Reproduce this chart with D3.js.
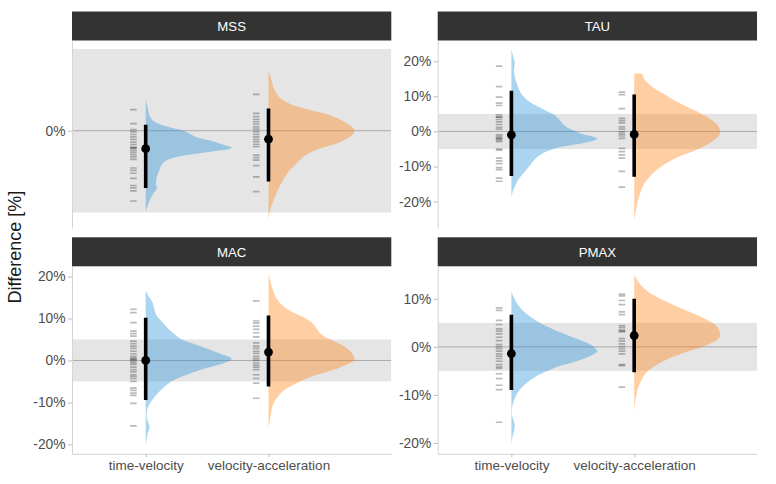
<!DOCTYPE html>
<html><head><meta charset="utf-8">
<script src="https://cdn.jsdelivr.net/npm/d3@7"></script>
<style>body{margin:0;background:#fff}svg{display:block;font-family:"Liberation Sans",Arial,Helvetica,sans-serif}</style>
</head><body><svg id="c" width="776" height="484"></svg>
<script>
// ---------- data ----------
const facets = ["MSS", "TAU", "MAC", "PMAX"];
const groups = ["time-velocity", "velocity-acceleration"];
const yTicks = [-20, -10, 0, 10, 20];
const sesoi = [-5, 5];

// individual differences (rug)
const rugMSS_tv = [1.29, 0.44, 0.07, -0.07, -0.23, -0.38, -0.53, -0.7, -0.85, -1.02, -1.04, -1.08, -1.2, -1.33, -1.46, -1.6, -1.75, -2.28, -2.42, -2.6, -2.92, -3.35, -3.5, -3.68, -4.3];
const rugMSS_va = [2.22, 1.06, 0.86, 0.69, 0.55, 0.41, 0.24, 0.1, -0.06, -0.22, -0.37, -0.53, -0.67, -0.84, -0.98, -1.49, -1.65, -1.8, -2.14, -2.82, -3.73];
const rugTAU_tv = [18.6, 12.8, 9.8, 8.1, 7.4, 4.7, 4.1, 4.1, 3.4, 2.7, 1.98, 1.2, 0.66, -1.0, -1.5, -2.0, -2.0, -2.5, -2.9, -5.0, -5.3, -7.6, -8.4, -9.2, -10.3, -10.9, -13.3, -14.2];
const rugTAU_va = [11.2, 10.5, 6.5, 3.7, 3.1, 2.45, 1.3, 0.66, -0.1, -0.75, -1.3, -2.0, -4.8, -5.75, -6.7, -7.6, -11.4, -15.9];
const rugMAC_tv = [12.2, 11.4, 9.0, 7.0, 6.4, 5.8, 4.6, 4.0, 3.4, 2.9, 2.2, 1.6, 1.0, 0.64, 0.24, 0.24, -0.16, -0.56, -0.96, -1.6, -2.2, -2.7, -3.4, -3.8, -4.3, -5.0, -6.6, -7.1, -7.8, -8.3, -10.2, -15.6];
const rugMAC_va = [14.2, 9.4, 8.9, 8.2, 7.4, 6.6, 5.6, 4.2, 3.4, 2.9, 2.2, 1.7, 1.0, 0.5, 0, -0.6, -1.1, -1.6, -2.2, -3.4, -4.3, -5.4, -9.0];
const rugPMAX_tv = [8.1, 7.6, 5.5, 4.65, 3.75, 3.26, 2.7, 2.0, 1.3, 0.49, 0.07, -0.35, -0.9, -1.46, -1.94, -2.43, -3.0, -3.7, -4.2, -4.5, -5.6, -6.6, -8.0, -8.9, -15.7];
const rugPMAX_va = [11.0, 10.6, 9.65, 8.8, 7.3, 6.7, 4.4, 4.0, 3.5, 3.3, 3.1, 1.7, 1.2, 0.6, 0.07, -0.4, -0.9, -1.46, -3.7, -3.9, -8.4];

// point estimate and interval [time-velocity, velocity-acceleration]
const estMSS = [-1.1, -0.52],  loMSS = [-3.5, -3.1],   hiMSS = [0.37, 1.36];
const estTAU = [-0.95, -0.86], loTAU = [-12.7, -12.9], hiTAU = [11.6, 10.5];
const estMAC = [0.0, 2.0],     loMAC = [-9.4, -6.2],   hiMAC = [10.2, 10.7];
const estPMAX = [-1.39, 2.36], loPMAX = [-9.0, -5.3],  hiPMAX = [6.7, 10.0];

// density profiles [value %, relative density]
const densMSS_tv = [[1.93,0],[1.48,0.02],[0.87,0.05],[0.46,0.13],[0.2,0.29],[0.02,0.43],[-0.2,0.52],[-0.42,0.6],[-0.62,0.76],[-0.82,0.89],[-1.05,1.0],[-1.28,0.75],[-1.48,0.48],[-1.68,0.3],[-1.99,0.2],[-2.4,0.16],[-2.81,0.13],[-3.21,0.12],[-3.52,0.13],[-3.83,0.09],[-4.23,0.05],[-4.64,0.02],[-4.95,0]];
const densMSS_va = [[3.72,0],[3.11,0.035],[2.5,0.07],[1.88,0.17],[1.48,0.33],[1.27,0.48],[1.07,0.64],[0.76,0.8],[0.46,0.91],[0.0,1.0],[-0.36,0.95],[-0.77,0.8],[-1.17,0.56],[-1.58,0.41],[-1.99,0.33],[-2.4,0.25],[-3.01,0.17],[-3.62,0.11],[-4.23,0.06],[-4.85,0.02],[-5.43,0]];
const densTAU_tv = [[23.5,0],[21.4,0.02],[19.5,0.04],[17.6,0.03],[15.7,0.04],[13.8,0.06],[11.9,0.09],[10.0,0.14],[8.6,0.2],[7.1,0.31],[5.7,0.42],[4.8,0.49],[3.3,0.56],[1.9,0.61],[0.95,0.66],[-0.48,0.8],[-2.1,1.0],[-3.3,0.84],[-4.3,0.6],[-5.7,0.41],[-7.1,0.31],[-8.6,0.25],[-10.5,0.19],[-11.9,0.14],[-13.8,0.08],[-15.7,0.04],[-17.6,0.01],[-18.6,0]];
const densTAU_va = [[16.5,0],[16.45,0.09],[14.8,0.12],[12.9,0.2],[11.0,0.32],[9.0,0.46],[7.1,0.61],[5.2,0.77],[3.3,0.9],[1.4,0.98],[0,1.0],[-1.4,0.98],[-3.3,0.88],[-5.2,0.73],[-7.1,0.53],[-9.0,0.38],[-11.0,0.26],[-12.9,0.18],[-14.8,0.12],[-17.6,0.07],[-20.5,0.035],[-23.3,0.015],[-25.1,0]];
const densMAC_tv = [[16.6,0],[15.4,0.03],[13.8,0.08],[12.2,0.1],[10.6,0.13],[9.0,0.2],[7.4,0.27],[6.2,0.34],[5.0,0.42],[3.8,0.58],[2.6,0.74],[1.4,0.89],[0.4,1.0],[-0.56,0.92],[-1.76,0.72],[-3.0,0.53],[-4.2,0.38],[-5.4,0.27],[-6.6,0.2],[-7.8,0.14],[-9.0,0.09],[-10.2,0.05],[-11.8,0.015],[-13.4,0.01],[-15.0,0.035],[-15.8,0.045],[-17.0,0.03],[-18.2,0.015],[-20.2,0]];
const densMAC_va = [[20.4,0],[19.4,0.015],[17.8,0.035],[16.2,0.06],[14.6,0.1],[13.0,0.17],[11.4,0.29],[9.8,0.45],[8.2,0.54],[7.0,0.58],[5.8,0.64],[4.6,0.76],[3.4,0.88],[1.8,0.97],[0.24,1.0],[-0.96,0.91],[-2.2,0.76],[-3.4,0.56],[-4.6,0.41],[-5.8,0.29],[-7.0,0.19],[-8.6,0.11],[-10.2,0.06],[-12.6,0.03],[-15.0,0.01],[-15.8,0]];
const densPMAX_tv = [[11.6,0],[10.6,0.02],[9.2,0.06],[7.8,0.12],[6.4,0.21],[5.0,0.33],[3.6,0.49],[2.2,0.68],[0.83,0.88],[-0.21,0.97],[-0.9,1.0],[-1.94,0.91],[-3.0,0.76],[-4.0,0.56],[-5.1,0.41],[-6.1,0.29],[-7.5,0.18],[-8.9,0.1],[-10.3,0.05],[-11.7,0.02],[-13.1,0.005],[-14.4,0.01],[-15.5,0.03],[-16.5,0.04],[-17.6,0.03],[-19.0,0.01],[-20.5,0]];
const densPMAX_va = [[15.0,0],[14.0,0.03],[12.6,0.09],[11.25,0.18],[9.86,0.32],[8.47,0.49],[7.08,0.67],[5.69,0.84],[4.3,0.96],[2.36,1.0],[1.18,0.94],[0.14,0.81],[-1.25,0.58],[-2.64,0.38],[-4.0,0.24],[-5.4,0.14],[-6.8,0.09],[-8.2,0.05],[-9.6,0.03],[-11.7,0.01],[-14.0,0]];

// ---------- assemble ----------
const panelData = [
  {rug:[rugMSS_tv, rugMSS_va], dens:[densMSS_tv, densMSS_va], est:estMSS, lo:loMSS, hi:hiMSS},
  {rug:[rugTAU_tv, rugTAU_va], dens:[densTAU_tv, densTAU_va], est:estTAU, lo:loTAU, hi:hiTAU},
  {rug:[rugMAC_tv, rugMAC_va], dens:[densMAC_tv, densMAC_va], est:estMAC, lo:loMAC, hi:hiMAC},
  {rug:[rugPMAX_tv, rugPMAX_va], dens:[densPMAX_tv, densPMAX_va], est:estPMAX, lo:loPMAX, hi:hiPMAX}
];

// ---------- layout ----------
const colX = [72, 437.7], panelW = 319.3;
const rowY = [40.5, 266.3], panelH = 187.5, stripH = 29;
const fills = ["rgb(32,142,214)", "rgb(255,128,14)"];
const fillOpacity = 0.38;

const svg = d3.select("#c");

facets.forEach((name, k) => {
  const p = panelData[k];
  const col = k % 2, row = Math.floor(k / 2);
  const x0 = colX[col], y0 = rowY[row];
  const g = svg.append("g");

  // strip
  g.append("rect").attr("x", x0).attr("y", y0 - stripH).attr("width", panelW).attr("height", stripH)
    .attr("fill", "#333333");
  g.append("text").attr("x", x0 + panelW / 2).attr("y", y0 - stripH / 2).attr("dy", "0.36em")
    .attr("text-anchor", "middle").attr("fill", "#ffffff").attr("font-size", 13.2).text(name);

  // scales
  const vals = [...sesoi];
  p.dens.forEach(d => d.forEach(v => vals.push(v[0])));
  p.rug.forEach(r => r.forEach(v => vals.push(v)));
  const ext = d3.extent(vals);
  const pad = (ext[1] - ext[0]) * 0.05;
  const ys = d3.scaleLinear().domain([ext[0] - pad, ext[1] + pad]).range([y0 + panelH, y0]);
  const xs = d3.scaleLinear().domain([0.4, 3.0]).range([x0, x0 + panelW]);
  const ws = d3.scaleLinear().domain([0, 1]).range([0, xs(1.7) - xs(1)]);

  const clipId = "clip" + k;
  svg.append("clipPath").attr("id", clipId).append("rect")
    .attr("x", x0).attr("y", y0).attr("width", panelW).attr("height", panelH);
  const pg = g.append("g").attr("clip-path", `url(#${clipId})`);

  // SESOI band
  pg.append("rect").attr("x", x0).attr("width", panelW)
    .attr("y", ys(sesoi[1])).attr("height", ys(sesoi[0]) - ys(sesoi[1]))
    .attr("fill", "#e5e5e5");
  // zero line
  pg.append("line").attr("x1", x0).attr("x2", x0 + panelW).attr("y1", ys(0)).attr("y2", ys(0))
    .attr("stroke", "#ababab").attr("stroke-width", 1);

  groups.forEach((gr, i) => {
    const c = i + 1;
    // half violin
    const area = d3.area()
      .y(d => ys(d[0]))
      .x0(xs(c))
      .x1(d => xs(c) + ws(d[1]))
      .curve(d3.curveMonotoneY);
    pg.append("path").datum(p.dens[i]).attr("d", area)
      .attr("fill", fills[i]).attr("fill-opacity", fillOpacity);
    // rug
    pg.selectAll(null).data(p.rug[i]).join("line")
      .attr("x1", xs(c - 0.127)).attr("x2", xs(c - 0.073))
      .attr("y1", d => ys(d)).attr("y2", d => ys(d))
      .attr("stroke", "#000").attr("stroke-opacity", 0.27).attr("stroke-width", 1.7);
    // interval
    pg.append("line").attr("x1", xs(c)).attr("x2", xs(c))
      .attr("y1", ys(p.lo[i])).attr("y2", ys(p.hi[i]))
      .attr("stroke", "#000").attr("stroke-width", 3.6);
    pg.append("circle").attr("cx", xs(c)).attr("cy", ys(p.est[i])).attr("r", 4.4).attr("fill", "#000");
  });

  // y axis
  const [d0, d1] = ys.domain();
  const yAxis = d3.axisLeft(ys).tickValues(yTicks.filter(t => t >= d0 && t <= d1))
    .tickFormat(d => d + "%").tickSize(4).tickSizeOuter(0).tickPadding(2.5);
  const ay = g.append("g").attr("transform", `translate(${x0},0)`).call(yAxis);
  ay.select(".domain").attr("stroke", "#d4d4d4");
  ay.selectAll(".tick line").attr("stroke", "#bdbdbd");
  ay.selectAll(".tick text").attr("fill", "#4d4d4d").attr("font-size", 13.8)
    .attr("font-family", '"Liberation Sans",Arial,sans-serif');

  // x axis on bottom row
  if (row === 1) {
    const xAxis = d3.axisBottom(xs).tickValues([1, 2]).tickFormat(d => groups[d - 1])
      .tickSize(3.5).tickSizeOuter(0).tickPadding(3);
    const ax = g.append("g").attr("transform", `translate(0,${y0 + panelH})`).call(xAxis);
    ax.select(".domain").attr("stroke", "#d4d4d4");
    ax.selectAll(".tick line").attr("stroke", "#bdbdbd");
    ax.selectAll(".tick text").attr("fill", "#4d4d4d").attr("font-size", 13.5)
      .attr("font-family", '"Liberation Sans",Arial,sans-serif');
  }
});

// y title
svg.append("text").attr("transform", `translate(15,${(rowY[0] + rowY[1] + panelH) / 2}) rotate(-90)`)
  .attr("text-anchor", "middle").attr("dy", "0.36em").attr("font-size", 18).attr("fill", "#1a1a1a")
  .text("Difference [%]");
</script></body></html>
